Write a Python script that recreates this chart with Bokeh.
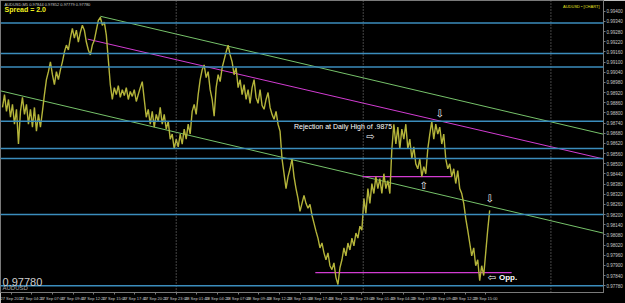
from bokeh.plotting import figure
from bokeh.models import Range1d, Span, Label, FixedTicker, PrintfTickFormatter
from bokeh.embed import file_html
from bokeh.resources import INLINE

# ---------------- data ----------------
# AUDUSD M5 close, sampled every 3 bars starting 27 Sep 2011 01:40
price = [
    # 27 Sep early
    0.98832, 0.98908, 0.98809, 0.98879, 0.98774, 0.98850, 0.98733, 0.98821, 0.98616, 0.98809,
    0.98891, 0.98791, 0.98850, 0.98733, 0.98821, 0.98716, 0.98832, 0.98692, 0.98791, 0.98716,
    0.98809, 0.98908, 0.98996,
    0.99043, 0.99101, 0.99025, 0.98967, 0.99043, 0.98996, 0.99054, 0.99101, 0.99159, 0.99200,
    0.99171, 0.99241, 0.99299, 0.99241, 0.99288, 0.99218, 0.99276, 0.99317, 0.99288, 0.99218,
    0.99171, 0.99142, 0.99200, 0.99229, 0.99288, 0.99346, 0.99364, 0.99317, 0.99335, 0.99259,
    0.99113, 0.98967,
    0.98879, 0.98949, 0.98908, 0.98961, 0.98891, 0.98937, 0.98902, 0.98949, 0.98879, 0.98926,
    0.98897, 0.98937, 0.98867, 0.98908, 0.98949, 0.98984, 0.98879, 0.98774, 0.98821, 0.98733,
    0.98809, 0.98716, 0.98791, 0.98750, 0.98832, 0.98733, 0.98791, 0.98704, 0.98750, 0.98645,
    0.98675, 0.98587, 0.98645,
    # 28 Sep
    0.98599, 0.98675, 0.98616, 0.98704, 0.98645, 0.98733, 0.98675, 0.98809, 0.98850, 0.98791,
    0.98908, 0.98996, 0.99054, 0.99083, 0.99008, 0.99043, 0.98937, 0.98879, 0.98780, 0.98949,
    0.99025, 0.98984, 0.99066, 0.99113, 0.99159, 0.99200, 0.99142, 0.99101, 0.99025, 0.99066,
    0.98949, 0.98996, 0.98908, 0.98967, 0.98879, 0.98937, 0.98856, 0.98949, 0.98996, 0.98891,
    0.98856, 0.98937, 0.98844, 0.98821, 0.98879, 0.98920, 0.98832, 0.98791, 0.98762, 0.98809,
    0.98733, 0.98692,
    0.98529, 0.98441, 0.98353, 0.98424, 0.98470, 0.98529, 0.98424, 0.98353, 0.98295, 0.98219,
    0.98266, 0.98313, 0.98266, 0.98237, 0.98260, 0.98196, 0.98149, 0.98102, 0.98061, 0.98003,
    0.98032, 0.97974, 0.97933, 0.97974, 0.97898, 0.97875, 0.97915, 0.97828, 0.97787, 0.97886,
    0.97933, 0.98003, 0.97956, 0.98032, 0.97991, 0.98061, 0.98015, 0.98091, 0.98061, 0.98131,
    0.98108,
    # 29 Sep
    0.98295, 0.98207, 0.98353, 0.98266, 0.98383, 0.98324, 0.98424, 0.98353, 0.98412, 0.98324,
    0.98441, 0.98353, 0.98400, 0.98324, 0.98587, 0.98733, 0.98616, 0.98716, 0.98587, 0.98704,
    0.98645, 0.98733, 0.98587, 0.98645, 0.98529, 0.98599, 0.98499, 0.98470, 0.98529, 0.98424,
    0.98482, 0.98441, 0.98587, 0.98675, 0.98750, 0.98645, 0.98733, 0.98675, 0.98716, 0.98616,
    0.98675, 0.98529, 0.98470, 0.98499, 0.98424, 0.98470, 0.98383, 0.98459, 0.98353, 0.98324,
    0.98266, 0.98178, 0.98108, 0.98032, 0.97956, 0.98003, 0.97898, 0.97933, 0.97810, 0.97898,
    0.97840, 0.97974, 0.98108, 0.98225,
]
BAR_STEP = 3
bars = list(range(0, BAR_STEP * len(price), BAR_STEP))

# horizontal support / resistance levels
levels = [0.9933, 0.9915, 0.9907, 0.9875, 0.9859, 0.9853, 0.9820, 0.9778]
# daily period separators (bar index)
separators = [261, 542, 824]

# trend lines: (bars, prices)
upper_green_x, upper_green_y = [147, 915], [0.99370, 0.98663]
magenta_x, magenta_y = [128, 915], [0.99235, 0.98517]
lower_green_x, lower_green_y = [-3, 915], [0.98930, 0.98079]
support_x, support_y = [541, 675], [0.98424, 0.98424]
opp_x, opp_y = [470, 765], [0.97857, 0.97857]

# axis ticks
x_tick_bars = [i * 31 for i in range(24)]
x_tick_labels = [
    "27 Sep 2011", "27 Sep 04:20", "27 Sep 07:00", "27 Sep 09:40", "27 Sep 12:20",
    "27 Sep 15:00", "27 Sep 17:40", "27 Sep 20:20", "27 Sep 23:00", "28 Sep 01:40",
    "28 Sep 04:20", "28 Sep 07:00", "28 Sep 09:40", "28 Sep 12:20", "28 Sep 15:00",
    "28 Sep 17:40", "28 Sep 20:20", "28 Sep 23:00", "29 Sep 01:40", "29 Sep 04:20",
    "29 Sep 07:00", "29 Sep 09:40", "29 Sep 12:20", "29 Sep 15:00",
]
y_ticks = [0.9778, 0.9784, 0.9790, 0.9796, 0.9802, 0.9808, 0.9814, 0.9820, 0.9826,
           0.9832, 0.9838, 0.9844, 0.9850, 0.9856, 0.9862, 0.9868, 0.9874, 0.9880,
           0.9886, 0.9892, 0.9898, 0.9904, 0.9910, 0.9916, 0.9922, 0.9928, 0.9934,
           0.9940]

X_START, X_END = -3, 903
Y_START, Y_END = 0.97740, 0.99463

FONT = "Liberation Sans"
p = figure(width=625, height=303, output_backend="svg", toolbar_location=None,
           x_range=Range1d(X_START, X_END), y_range=Range1d(Y_START, Y_END),
           y_axis_location="right",
           background_fill_color="black", border_fill_color="black",
           min_border_left=0, min_border_top=0, min_border_bottom=0, min_border_right=0,
           outline_line_color="#7a7a7a")
p.grid.visible = False

# axes
xa = p.xaxis[0]
xa.ticker = FixedTicker(ticks=[b + 13 for b in x_tick_bars])
xa.major_label_overrides = {b + 13: lab for b, lab in zip(x_tick_bars, x_tick_labels)}
xa.major_label_text_font = FONT
xa.major_label_text_font_size = "4px"
xa.major_label_text_color = "#c8c8c8"
xa.axis_line_color = "#7a7a7a"
xa.major_tick_line_color = "#7a7a7a"
xa.major_tick_out = 2
xa.major_tick_in = 0
xa.minor_tick_out = 0
xa.minor_tick_in = 0
xa.major_label_standoff = 1

ya = p.yaxis[0]
ya.ticker = FixedTicker(ticks=y_ticks)
ya.formatter = PrintfTickFormatter(format="%.5f")
ya.major_label_text_font = FONT
ya.major_label_text_font_size = "4.5px"
ya.major_label_text_color = "#c8c8c8"
ya.axis_line_color = "#7a7a7a"
ya.major_tick_line_color = "#7a7a7a"
ya.major_tick_out = 2
ya.major_tick_in = 0
ya.minor_tick_out = 0
ya.minor_tick_in = 0
ya.major_label_standoff = 1

# separators
for b in separators:
    p.add_layout(Span(location=b, dimension="height", line_color="#8c8c8c",
                      line_width=1, line_dash="1 2"))

# levels
for lv in levels:
    p.add_layout(Span(location=lv, dimension="width", line_color="#3b8dbd", line_width=1.5))

# trend lines
p.line(upper_green_x, upper_green_y, line_color="#76c26a", line_width=1)
p.line(lower_green_x, lower_green_y, line_color="#76c26a", line_width=1)
p.line(magenta_x, magenta_y, line_color="#d23cd2", line_width=1)
p.line(support_x, support_y, line_color="#d23cd2", line_width=1.2)
p.line(opp_x, opp_y, line_color="#d23cd2", line_width=1.2)

# price
p.line(bars, price, line_color="#b4b43a", line_width=1.4)

# level tags on the price scale
for lv in levels:
    p.add_layout(Label(x=X_END, y=lv, text="%.5f" % lv, x_offset=1,
                       text_font=FONT, text_font_size="4.5px", text_color="white",
                       text_baseline="middle", text_align="left",
                       background_fill_color="#3b8dbd"))

# texts
def lab(x, y, text, size, color, align="left", baseline="middle", style="normal", font=FONT):
    p.add_layout(Label(x=x, y=y, text=text, text_font=font, text_font_size=size,
                       text_color=color, text_align=align, text_baseline=baseline,
                       text_font_style=style))

lab(3, 0.99455, "AUDUSD,M5  0.97844 0.97852 0.97779 0.97780", "4px", "#c8c8c8", baseline="top")
lab(3, 0.99428, "Spread = 2.0", "7px", "#f0f020", baseline="top", style="bold")
lab(X_END - 6, 0.99440, "AUDUSD \u2022 [CHART]", "4px", "#e0e020", align="right", baseline="top")
lab(438, 0.98721, "Rejection at Daily High of .9875", "7px", "white")
lab(553, 0.98662, "\u21e8", "10px", "white", align="center", font="DejaVu Sans")
lab(657, 0.98797, "\u21e9", "10px", "white", align="center", font="DejaVu Sans")
lab(633, 0.98371, "\u21e7", "10px", "white", align="center", font="DejaVu Sans")
lab(732, 0.98295, "\u21e9", "10px", "white", align="center", font="DejaVu Sans")
lab(729, 0.97828, "\u21e6", "10px", "white", font="DejaVu Sans")
lab(746, 0.97828, "Opp.", "8px", "white", style="bold")
lab(0, 0.97804, "0.97780", "11px", "#cfcfcf", baseline="alphabetic")
lab(0, 0.97747, "AUDUSD", "6px", "#a8a8a8", baseline="bottom")

open("out.html", "w").write(file_html(p, INLINE))
